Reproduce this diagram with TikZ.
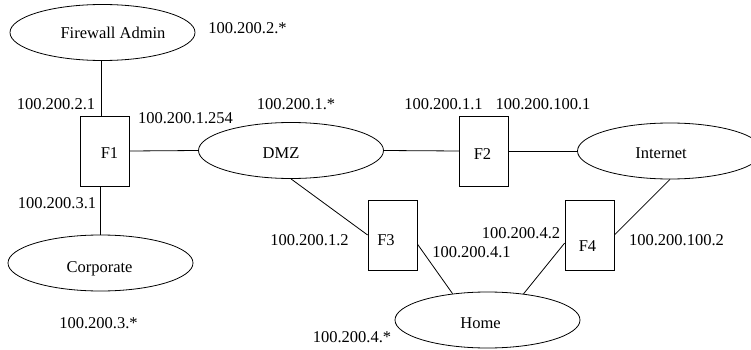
\documentclass[tikz,border=0pt]{standalone}
\usepackage{fontspec}
\setmainfont{Liberation Serif}
\usetikzlibrary{shapes.geometric}
\begin{document}
\begin{tikzpicture}[x=1pt,y=-1pt,
  every node/.style={font=\fontsize{16.5}{19}\selectfont},
  net/.style={draw,ellipse,line width=0.8pt,minimum width=185pt,minimum height=56pt,inner sep=0pt},
  fw/.style={draw,rectangle,line width=0.8pt,minimum width=49pt,minimum height=70pt,inner sep=0pt},
  txt/.style={anchor=base,inner sep=0pt},
  link/.style={line width=0.8pt}]
\useasboundingbox (0,0) rectangle (751,350);
\clip (0,0) rectangle (751,350);
% networks
\node[net] (fa) at (102.5,32.5) {};
\node[net] (dmz) at (291,150.5) {};
\node[net] (inet) at (670,151) {};
\node[net] (corp) at (100.5,263) {};
\node[net] (home) at (487.5,320) {};
% firewalls
\node[fw] (f1) at (104.5,151) {};
\node[fw] (f2) at (484,151) {};
\node[fw] (f3) at (392.5,235) {};
\node[fw] (f4) at (589.5,235) {};
% names
\node[txt] (tfa) at (113,39) {Firewall Admin};
\node[txt] (tdmz) at (281,158) {DMZ};
\node[txt] (tinet) at (661,158) {Internet};
\node[txt] (tcorp) at (99.5,272) {Corporate};
\node[txt] (thome) at (480.5,328) {Home};
\node[txt] (tf1) at (109.5,158) {F1};
\node[txt] (tf2) at (482.5,159) {F2};
\node[txt] (tf3) at (386,245) {F3};
\node[txt] (tf4) at (587.5,251) {F4};
% addresses
\node[txt] (a1) at (247.5,33.3) {100.200.2.*};
\node[txt] (a2) at (56,110) {100.200.2.1};
\node[txt] (a3) at (185.5,123) {100.200.1.254};
\node[txt] (a4) at (296,110) {100.200.1.*};
\node[txt] (a5) at (443.5,110) {100.200.1.1};
\node[txt] (a6) at (543,110) {100.200.100.1};
\node[txt] (a7) at (57,208) {100.200.3.1};
\node[txt] (a8) at (309.5,245) {100.200.1.2};
\node[txt] (a9) at (471.5,257) {100.200.4.1};
\node[txt] (a10) at (521,238) {100.200.4.2};
\node[txt] (a11) at (676.5,245) {100.200.100.2};
\node[txt] (a12) at (98.5,328) {100.200.3.*};
\node[txt] (a13) at (352,342) {100.200.4.*};
% links
\draw[link] ([xshift=-1.5pt]fa.south) -- ([xshift=-3.5pt]f1.north);
\draw[link] (corp.north |- f1.south) -- (corp.north);
\draw[link] (f1.east) -- (dmz.west);
\draw[link] (dmz.east) -- (f2.west);
\draw[link] (f2.east) -- (inet.west);
\draw[link] (dmz.south) -- (f3.west);
\draw[link] (f3.-20) -- (home.143);
\draw[link] (home.36) -- (f4.198);
\draw[link] (f4.east) -- (inet.south);
\end{tikzpicture}
\end{document}
